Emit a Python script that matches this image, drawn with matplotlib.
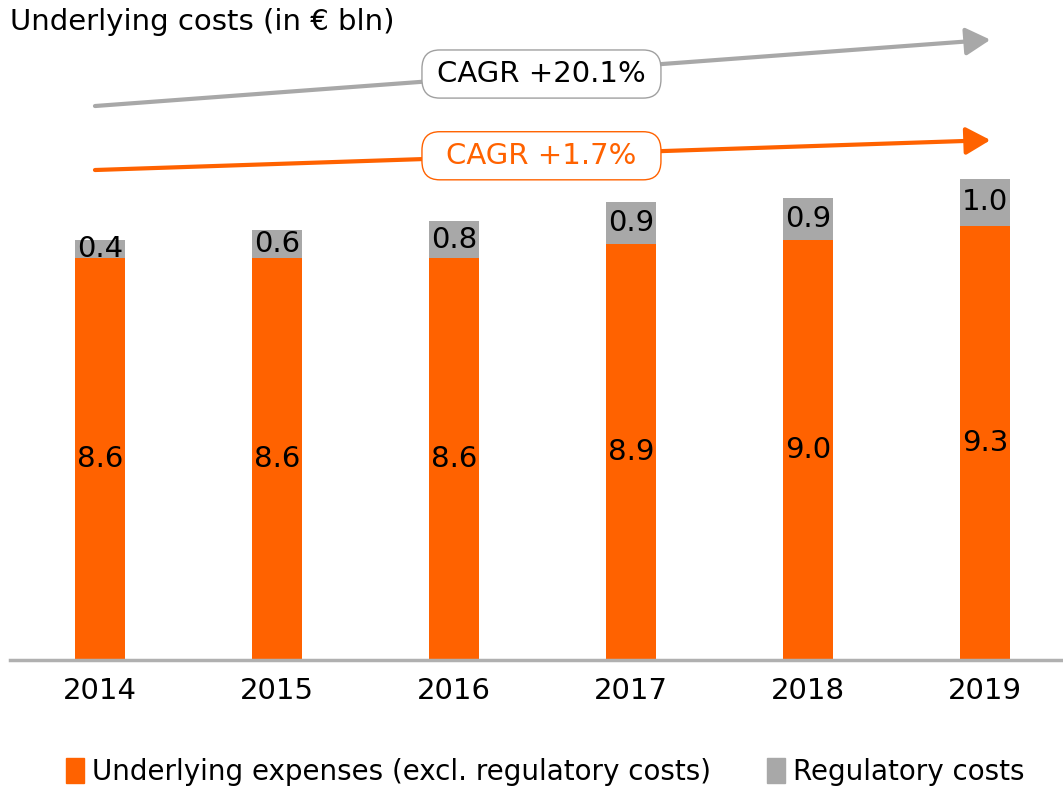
import matplotlib
matplotlib.use('Agg')
import matplotlib.pyplot as plt
from matplotlib.patches import Patch, FancyBboxPatch

plt.rcParams['font.family'] = ['DejaVu Sans']

years = ['2014', '2015', '2016', '2017', '2018', '2019']
underlying = [8.6, 8.6, 8.6, 8.9, 9.0, 9.3]
regulatory = [0.4, 0.6, 0.8, 0.9, 0.9, 1.0]
cagr_total = 'CAGR +20.1%'
cagr_under = 'CAGR +1.7%'

orange = '#FF6200'
grey = '#A8A8A8'

fig = plt.figure(figsize=(10.63, 7.92), dpi=100)
ax = fig.add_axes([0.0094, 0.1667, 0.9906, 0.8333])

x = list(range(len(years)))
ax.bar(x, underlying, width=0.28, color=orange)
ax.bar(x, regulatory, width=0.28, bottom=underlying, color=grey)

for i in x:
    ax.text(i, underlying[i] / 2, f'{underlying[i]:.1f}', ha='center', va='center', fontsize=21)
    ax.text(i, underlying[i] + regulatory[i] / 2, f'{regulatory[i]:.1f}', ha='center', va='center', fontsize=21)

ax.set_xlim(-0.508, 5.44)
ax.set_ylim(0, 14.13)
ax.set_xticks(x)
ax.set_xticklabels(years, fontsize=21)
ax.tick_params(axis='x', length=0, pad=12)
ax.set_yticks([])
for s in ['top', 'right', 'left']:
    ax.spines[s].set_visible(False)
ax.spines['bottom'].set_color('#B0B0B0')
ax.spines['bottom'].set_linewidth(2.5)

# arrows for CAGR
head = '-|>,head_length=0.5,head_width=0.28'
ax.annotate('', xy=(5.03, 13.28), xytext=(-0.028, 11.86),
            arrowprops=dict(arrowstyle=head, color=grey, lw=3, mutation_scale=30, shrinkA=0, shrinkB=0))
ax.annotate('', xy=(5.03, 11.13), xytext=(-0.028, 10.49),
            arrowprops=dict(arrowstyle=head, color=orange, lw=3, mutation_scale=30, shrinkA=0, shrinkB=0))

# boxes with CAGR text
box_x0, box_x1 = 1.819, 3.169
for (y0, y1, txt, ec, tc) in [(12.03, 13.06, cagr_total, '#A0A0A0', 'black'),
                              (10.28, 11.31, cagr_under, orange, orange)]:
    ax.add_patch(FancyBboxPatch((box_x0, y0), box_x1 - box_x0, y1 - y0,
                                boxstyle='round,pad=0,rounding_size=0.1',
                                fc='white', ec=ec, lw=1, zorder=3,
                                mutation_aspect=4.0))
    ax.text((box_x0 + box_x1) / 2, (y0 + y1) / 2, txt, ha='center', va='center',
            fontsize=21, color=tc, zorder=4)

fig.text(0.0094, 0.972, 'Underlying costs (in € bln)', ha='left', va='center', fontsize=21)

handles = [Patch(color=orange, label='Underlying expenses (excl. regulatory costs)'),
           Patch(color=grey, label='Regulatory costs')]
fig.legend(handles=handles, loc='center', bbox_to_anchor=(0.513, 0.025), ncol=2, frameon=False,
           fontsize=20, handlelength=0.65, handleheight=1.0, handletextpad=0.3, columnspacing=2.0)

fig.savefig('out.png', dpi=100)
